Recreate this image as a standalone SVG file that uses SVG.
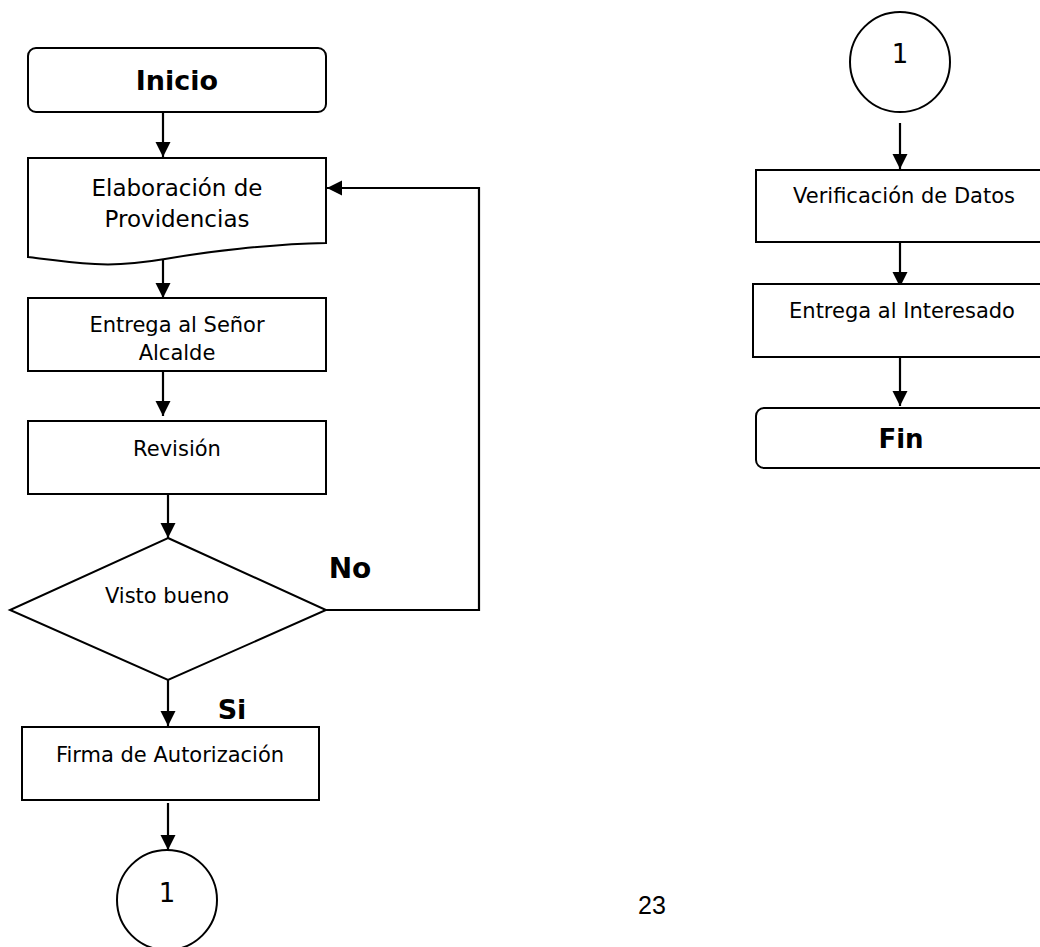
<svg xmlns="http://www.w3.org/2000/svg" width="1040" height="947" viewBox="0 0 1040 947">
  <style>
    .shape { fill: #ffffff; stroke: #000000; stroke-width: 2; }
    .conn { fill: none; stroke: #000000; stroke-width: 2.2; }
    .txt { font-family: "DejaVu Sans", Verdana, sans-serif; font-size: 21px; fill: #000000; text-anchor: middle; }
    .big { font-size: 23px; }
    .num { font-size: 26px; }
    .bold { font-family: "DejaVu Sans", Verdana, sans-serif; font-weight: bold; fill: #000000; text-anchor: middle; }
    .page { font-family: "Liberation Sans", Arial, sans-serif; font-size: 25px; fill: #000000; text-anchor: middle; }
  </style>
  <defs>
    <marker id="arrow" markerUnits="userSpaceOnUse" markerWidth="16" markerHeight="16" refX="15" refY="7.5" orient="auto">
      <path d="M0,0 L15,7.5 L0,15 Z" fill="#000000"/>
    </marker>
  </defs>
  <rect width="1040" height="947" fill="#ffffff"/>

  <!-- connectors -->
  <g id="connectors">
    <line class="conn" x1="163" y1="112" x2="163" y2="157" marker-end="url(#arrow)"/>
    <line class="conn" x1="163" y1="255" x2="163" y2="298" marker-end="url(#arrow)"/>
    <line class="conn" x1="163" y1="371" x2="163" y2="416" marker-end="url(#arrow)"/>
    <line class="conn" x1="168" y1="489" x2="168" y2="538" marker-end="url(#arrow)"/>
    <line class="conn" x1="168" y1="680" x2="168" y2="726" marker-end="url(#arrow)"/>
    <line class="conn" x1="168" y1="803" x2="168" y2="850" marker-end="url(#arrow)"/>
    <polyline class="conn" points="326,610 479,610 479,188 327,188" marker-end="url(#arrow)"/>
    <line class="conn" x1="900" y1="123" x2="900" y2="169" marker-end="url(#arrow)"/>
    <line class="conn" x1="900" y1="242" x2="900" y2="287" marker-end="url(#arrow)"/>
    <line class="conn" x1="900" y1="357" x2="900" y2="406" marker-end="url(#arrow)"/>
  </g>

  <!-- left column -->
  <g id="inicio">
    <rect class="shape" x="28" y="48" width="298" height="64" rx="8"/>
    <text class="bold" x="177" y="90" font-size="27">Inicio</text>
  </g>
  <g id="elaboracion">
    <path class="shape" d="M28,158 H326 V243 C270,244 205,252 165,259 C135,264 110,265 95,264 C65,262 45,259 28,257 Z"/>
    <text class="txt big" x="177" y="196">Elaboración de</text>
    <text class="txt big" x="177" y="227">Providencias</text>
  </g>
  <g id="entrega-alcalde">
    <rect class="shape" x="28" y="298" width="298" height="73"/>
    <text class="txt" x="177" y="332">Entrega al Señor</text>
    <text class="txt" x="177" y="360">Alcalde</text>
  </g>
  <g id="revision">
    <rect class="shape" x="28" y="421" width="298" height="73"/>
    <text class="txt" x="177" y="456">Revisión</text>
  </g>
  <g id="visto-bueno">
    <polygon class="shape" points="168,538 326,610 168,680 10,610"/>
    <text class="txt" x="167" y="603">Visto bueno</text>
  </g>
  <g id="label-no">
    <text class="bold" x="350" y="578" font-size="28">No</text>
  </g>
  <g id="label-si">
    <text class="bold" x="232" y="719" font-size="27">Si</text>
  </g>
  <g id="firma">
    <rect class="shape" x="22" y="727" width="297" height="73"/>
    <text class="txt" x="170" y="762">Firma de Autorización</text>
  </g>
  <g id="conector-salida">
    <circle class="shape" cx="167" cy="900" r="50"/>
    <text class="txt num" x="167" y="902">1</text>
  </g>

  <!-- right column -->
  <g id="conector-entrada">
    <circle class="shape" cx="900" cy="62" r="50"/>
    <text class="txt num" x="900" y="63">1</text>
  </g>
  <g id="verificacion">
    <rect class="shape" x="756" y="170" width="300" height="72"/>
    <text class="txt" x="904" y="203">Verificación de Datos</text>
  </g>
  <g id="entrega-interesado">
    <rect class="shape" x="753" y="284" width="303" height="73"/>
    <text class="txt" x="902" y="318">Entrega al Interesado</text>
  </g>
  <g id="fin">
    <rect class="shape" x="756" y="408" width="300" height="60" rx="8"/>
    <text class="bold" x="901" y="448" font-size="26">Fin</text>
  </g>

  <text class="page" x="652" y="914">23</text>
</svg>
